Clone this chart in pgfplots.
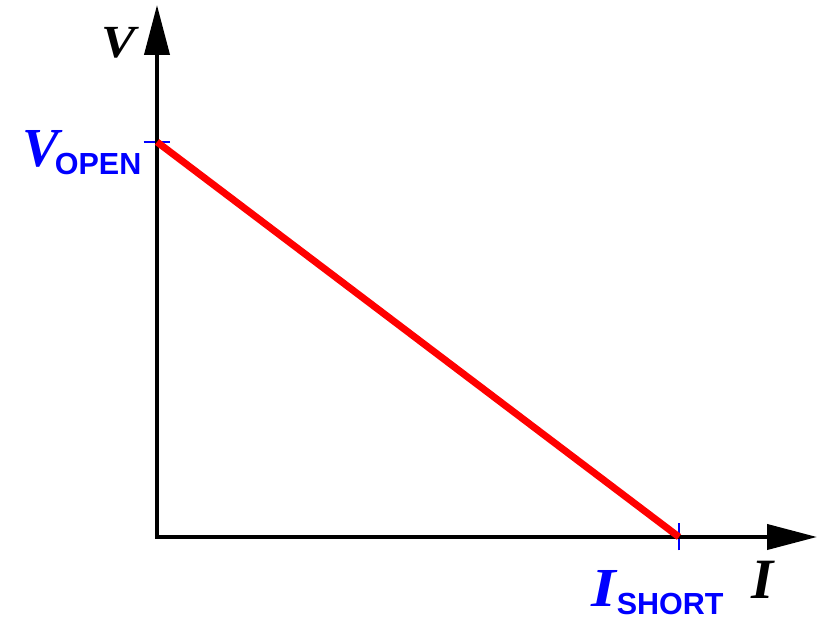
\documentclass[border=0pt]{standalone}
\usepackage{fontspec}
\setmainfont{Liberation Serif}
\newfontfamily\sansbold{Liberation Sans}[UprightFont=*-Bold]
\usepackage{pgfplots}
\pgfplotsset{compat=1.18}
\usetikzlibrary{arrows.meta}

\newcommand{\bisym}[2]{{\fontsize{#1}{#1}\selectfont\bfseries\itshape #2}}
\newcommand{\subtxt}[1]{\raisebox{-8pt}{\sansbold\fontsize{30.5pt}{31pt}\selectfont #1}}

\begin{document}
\begin{tikzpicture}
\path[use as bounding box] (-157pt,-83pt) rectangle (660pt,537pt);
\begin{axis}[
  scale only axis,
  width=660pt, height=532pt,
  xmin=0, xmax=1.2644,
  ymin=0, ymax=1.3468,
  axis lines=left,
  axis line style={line width=4pt, line cap=rect, -{Triangle[length=50pt,width=25pt]}},
  xtick={1}, ytick={1},
  xticklabels={}, yticklabels={},
  major tick length=27pt,
  tick align=center,
  tick style={blue, line width=1.6pt},
  clip=false,
]
  % source voltage falls linearly from open-circuit to short-circuit
  \addplot[red, line width=7pt, mark=none] coordinates {(0,1) (1,0)};

  % axis names
  \node[anchor=base west, inner sep=0pt] at (axis cs:0,0) [xshift=-56pt, yshift=479pt] {\scalebox{1.12}[1]{\bisym{46pt}{V}}};
  \node[anchor=base west, inner sep=0pt] at (axis cs:0,0) [xshift=594pt, yshift=-62pt] {\bisym{57pt}{I}};

  % intercept labels
  \node[anchor=base west, inner sep=0pt, text=blue] at (axis cs:0,0) [xshift=-135pt, yshift=370pt] {\bisym{55pt}{V}\kern-4pt\subtxt{OPEN}};
  \node[anchor=base west, inner sep=0pt, text=blue] at (axis cs:0,0) [xshift=434pt, yshift=-70pt] {\scalebox{1.15}[1]{\bisym{55pt}{I}}\kern1pt\subtxt{SHORT}};
\end{axis}
\end{tikzpicture}
\end{document}
